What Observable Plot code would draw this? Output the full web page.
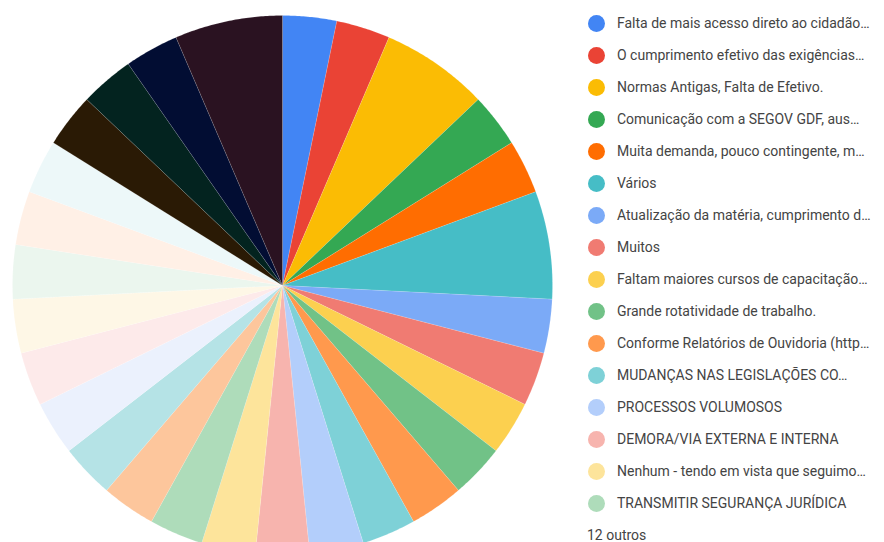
<!DOCTYPE html>
<html><head><meta charset="utf-8">
<script src="https://cdn.jsdelivr.net/npm/d3@7"></script>
<script src="https://cdn.jsdelivr.net/npm/@observablehq/plot@0.6"></script>
<style>
body{margin:0;background:#fff;font-family:Roboto,Arial,sans-serif}
#wrap{position:relative;width:884px;height:542px;overflow:hidden}
#chart{position:absolute;left:0;top:0}
#legend{position:absolute;left:588px;top:7px}
.row{height:32px;display:flex;align-items:center;font-size:14px;color:#444;white-space:nowrap}
.sw{width:17px;height:17px;border-radius:50%;margin-right:12px;flex:none}
.more{height:32px;display:flex;align-items:center;font-size:14px;color:#444;margin-left:-1px}
</style></head>
<body>
<div id="wrap"><div id="chart"></div><div id="legend"></div></div>
<script>
const categories = [
  "Falta de mais acesso direto ao cidadão…",
  "O cumprimento efetivo das exigências…",
  "Normas Antigas, Falta de Efetivo.",
  "Comunicação com a SEGOV GDF, aus…",
  "Muita demanda, pouco contingente, m…",
  "Vários",
  "Atualização da matéria, cumprimento d…",
  "Muitos",
  "Faltam maiores cursos de capacitação…",
  "Grande rotatividade de trabalho.",
  "Conforme Relatórios de Ouvidoria (http…",
  "MUDANÇAS NAS LEGISLAÇÕES CO…",
  "PROCESSOS VOLUMOSOS",
  "DEMORA/VIA EXTERNA E INTERNA",
  "Nenhum - tendo em vista que seguimo…",
  "TRANSMITIR SEGURANÇA JURÍDICA",
  "Outro 1","Outro 2","Outro 3","Outro 4","Outro 5","Outro 6",
  "Outro 7","Outro 8","Outro 9","Outro 10","Outro 11","Outro 12"
];
const counts = [1,1,2,1,1,2,1,1,1,1,1,1,1,1,1,1, 1,1,1,1,1,1,1,1,1,1,1,2];
const colors = [
  "#4285f4","#ea4335","#fbbc04","#34a853","#ff6d01","#46bdc6",
  "#7baaf7","#f07b72","#fcd04f","#71c287","#ff994d","#7ed1d7",
  "#b3cefb","#f7b4ae","#fde49b","#aedcba","#fdc69c","#b5e3e6",
  "#ebf1fd","#fdeaea","#fef7e6","#ebf6ee","#fff0e6","#edf8f9",
  "#2a1a05","#03231f","#020d33","#2a1221"
];
const legendCount = 16;
const othersLabel = "12 outros";

const pie = d3.pie().sort(null).value(d => d.count).startAngle(0).endAngle(2*Math.PI);
const arcs = pie(categories.map((c,i)=>({label:c, count:counts[i]})));
const pts = [];
arcs.forEach(a => {
  const lab = a.data.label;
  pts.push({label:lab, x:0, y:0});
  const n = Math.max(2, Math.ceil((a.endAngle - a.startAngle) / 0.008));
  for (let k=0;k<=n;k++){
    const t = a.startAngle + (a.endAngle - a.startAngle)*k/n;
    pts.push({label:lab, x:Math.sin(t), y:Math.cos(t)});
  }
  pts.push({label:lab, x:0, y:0});
});

const chart = Plot.plot({
  width: 884, height: 542, margin: 0,
  x: {domain:[-1,1], range:[12,552], axis:null},
  y: {domain:[-1,1], range:[555,15], axis:null},
  color: {domain: categories, range: colors},
  marks: [
    Plot.line(pts, {x:"x", y:"y", z:"label", fill:"label", stroke:"#ffffff", strokeWidth:0.5, strokeOpacity:0.25, curve:"linear"})
  ]
});
document.getElementById("chart").appendChild(chart);

const lg = document.getElementById("legend");
categories.slice(0, legendCount).forEach((c,i)=>{
  const r = document.createElement("div"); r.className="row";
  const s = document.createElement("span"); s.className="sw"; s.style.background = colors[i];
  const t = document.createElement("span"); t.textContent = c;
  r.appendChild(s); r.appendChild(t); lg.appendChild(r);
});
const m = document.createElement("div"); m.className="more"; m.textContent = othersLabel; lg.appendChild(m);
</script>
</body></html>
